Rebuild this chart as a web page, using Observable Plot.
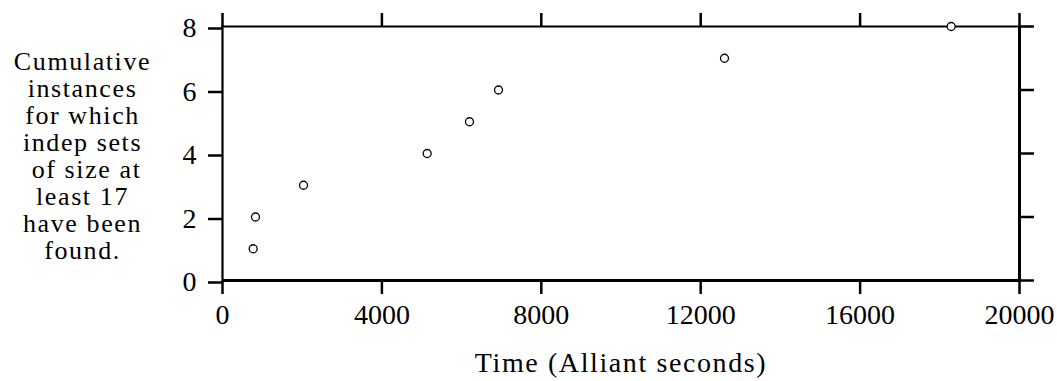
<!DOCTYPE html>
<html>
<head>
<meta charset="utf-8">
<script src="https://cdn.jsdelivr.net/npm/d3@7"></script>
<script src="https://cdn.jsdelivr.net/npm/@observablehq/plot@0.6"></script>
<style>
  html, body { margin: 0; padding: 0; background: #fff; }
  svg, svg text { font-family: "Liberation Serif", "DejaVu Serif", serif; }
</style>
</head>
<body>
<div id="chart"></div>
<script>
const times = [770, 828, 2033, 5136, 6198, 6926, 12597, 18285];
const counts = [1, 2, 3, 4, 5, 6, 7, 8];
const xTicks = [0, 4000, 8000, 12000, 16000, 20000];
const yTicks = [0, 2, 4, 6, 8];
const xLabel = "Time (Alliant seconds)";
const yLabelLines = ["Cumulative", "instances", "for which", "indep sets", "\u00a0of size at", "least 17", "have been", "found."];

const data = times.map((t, i) => ({t, n: counts[i]}));
const font = "Liberation Serif";

const chart = Plot.plot({
  width: 1057,
  height: 381,
  marginLeft: 222,
  marginRight: 38,
  marginTop: 26,
  marginBottom: 101,
  style: {fontFamily: font, fontSize: "28px", color: "#000", background: "#fff"},
  x: {domain: [0, 20000]},
  y: {domain: [0, 8]},
  marks: [
    Plot.axisX({anchor: "bottom", ticks: xTicks, tickSize: 14, tickPadding: 10, strokeWidth: 2.5, label: null, tickFormat: d => String(d), fontSize: 28, fontFamily: font}),
    Plot.axisX({anchor: "top", ticks: xTicks, tickSize: 14, strokeWidth: 2.5, label: null, tickFormat: () => ""}),
    Plot.axisY({anchor: "left", ticks: yTicks, tickSize: 14, tickPadding: 12, dy: 2, strokeWidth: 2.5, label: null, tickFormat: d => String(d), fontSize: 28, fontFamily: font}),
    Plot.axisY({anchor: "right", ticks: yTicks, tickSize: 14, strokeWidth: 2.5, label: null, tickFormat: () => ""}),
    Plot.ruleX([0], {stroke: "#000", strokeWidth: 2.2}),
    Plot.ruleX([20000], {stroke: "#000", strokeWidth: 3}),
    Plot.ruleY([0], {stroke: "#000", strokeWidth: 3}),
    Plot.ruleY([8], {stroke: "#000", strokeWidth: 2.2}),
    Plot.dot(data, {x: "t", y: "n", r: 4, stroke: "#000", strokeWidth: 1.3, fill: "#fff"}),
    Plot.text([yLabelLines.join("\n")], {frameAnchor: "left", dx: -140, dy: 2.5, textAnchor: "middle", lineHeight: 1.035, fontSize: 26, fontFamily: font, fill: "#000"}),
    Plot.text([xLabel], {frameAnchor: "bottom", dy: 91, textAnchor: "middle", fontSize: 28, fontFamily: font, fill: "#000"})
  ]
});
d3.select(chart).selectAll('g[aria-label="text"] text').style("letter-spacing", "1.6px");
document.getElementById("chart").appendChild(chart);
</script>
</body>
</html>
